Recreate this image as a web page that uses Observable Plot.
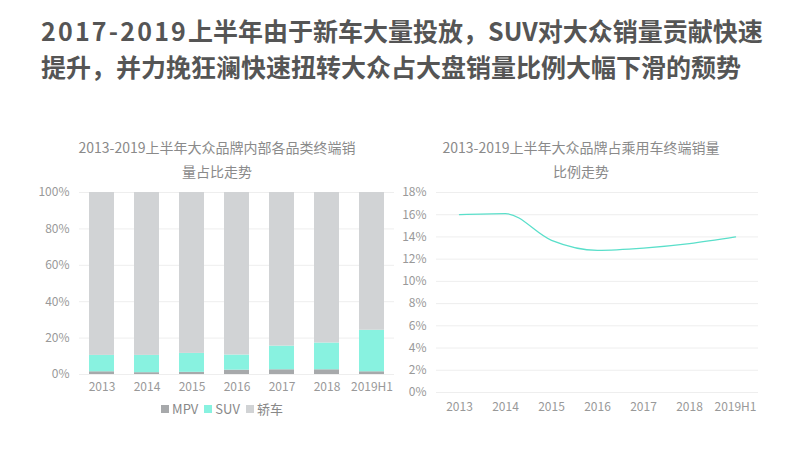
<!DOCTYPE html>
<html><head><meta charset="utf-8">
<script src="https://cdn.jsdelivr.net/npm/d3@7"></script>
<script src="https://cdn.jsdelivr.net/npm/@observablehq/plot@0.6"></script>
<style>
html,body{margin:0;padding:0;background:#fff;}
body{width:800px;height:450px;position:relative;overflow:hidden;font-family:"Noto Sans CJK SC","Noto Sans",sans-serif;}
#title{position:absolute;left:41px;top:12px;font-size:25px;font-weight:bold;color:#555;line-height:36px;white-space:nowrap;}
#title .lat{letter-spacing:2.2px;}
.sub{position:absolute;top:135px;width:400px;text-align:center;font-size:14px;color:#8a8a8a;line-height:24px;}
#left{position:absolute;left:0;top:180px;}
#right{position:absolute;left:400px;top:180px;}
#legend{position:absolute;left:0;width:438px;top:399px;text-align:center;font-size:13px;color:#888;}
#legend span.sw{display:inline-block;width:8px;height:8px;margin:0 3px 0 6px;vertical-align:1px;}
</style></head>
<body>
<div id="title"><span class="lat">2017-2019</span>上半年由于新车大量投放，SUV对大众销量贡献快速<br>提升，并力挽狂澜快速扭转大众占大盘销量比例大幅下滑的颓势</div>
<div class="sub" style="left:17px;">2013-2019上半年大众品牌内部各品类终端销<br>量占比走势</div>
<div class="sub" style="left:381px;">2013-2019上半年大众品牌占乘用车终端销量<br>比例走势</div>
<div id="left"></div>
<div id="right"></div>
<div id="legend"></div>
<script>
const years = ["2013","2014","2015","2016","2017","2018","2019H1"];
const types = ["MPV","SUV","轿车"];
const colors = ["#a7a9ab","#88f2e0","#d1d3d5"];
const mpv = [1.5, 1.0, 1.2, 2.4, 2.6, 2.6, 1.5];
const suv = [9.0, 9.5, 10.4, 8.3, 13.0, 14.7, 22.8];
const sedan = [89.5, 89.5, 88.4, 89.3, 84.4, 82.7, 75.7];
const share = [16.0, 16.1, 13.7, 12.8, 13.0, 13.4, 14.0];
const leftTicks = [0,20,40,60,80,100];
const rightTicks = [0,2,4,6,8,10,12,14,16,18];

const stackRows = [];
years.forEach((y,i)=>{
  stackRows.push({year:y,type:"MPV",value:mpv[i]});
  stackRows.push({year:y,type:"SUV",value:suv[i]});
  stackRows.push({year:y,type:"轿车",value:sedan[i]});
});
const lineRows = years.map((y,i)=>({year:y,value:share[i]}));

const leftPlot = Plot.plot({
  width:400, height:220,
  marginTop:12, marginBottom:26, marginLeft:79, marginRight:6,
  style:{fontSize:"12px", color:"#999", fontFamily:"'Noto Sans CJK SC',sans-serif", background:"transparent"},
  x:{domain:years, paddingInner:0.44, paddingOuter:0.22, label:null},
  y:{domain:[0,100], label:null},
  color:{domain:types, range:colors},
  marks:[
    Plot.gridY(leftTicks,{stroke:"#eeeeee", strokeOpacity:1}),
    Plot.barY(stackRows,{x:"year", y:"value", fill:"type", order:types}),
    Plot.axisX({tickSize:0, tickPadding:8}),
    Plot.axisY({ticks:leftTicks, tickFormat:d=>d+"%", tickSize:0, tickPadding:10})
  ]
});
document.getElementById("left").appendChild(leftPlot);

const rightPlot = Plot.plot({
  width:400, height:240,
  marginTop:12, marginBottom:28, marginLeft:36, marginRight:42,
  style:{fontSize:"12px", color:"#999", fontFamily:"'Noto Sans CJK SC',sans-serif", background:"transparent"},
  x:{type:"point", domain:years, padding:0.5, label:null},
  y:{domain:[0,18], label:null},
  marks:[
    Plot.gridY(rightTicks,{stroke:"#eeeeee", strokeOpacity:1}),
    Plot.lineY(lineRows,{x:"year", y:"value", stroke:"#5adfca", strokeWidth:1.3, curve:"monotone-x"}),
    Plot.axisX({tickSize:0, tickPadding:10}),
    Plot.axisY({ticks:rightTicks, tickFormat:d=>d+"%", tickSize:0, tickPadding:10})
  ]
});
document.getElementById("right").appendChild(rightPlot);

const lg = document.getElementById("legend");
lg.innerHTML = types.map((t,i)=>`<span class="sw" style="background:${colors[i]}"></span>${t}`).join("");
</script>
</body></html>
